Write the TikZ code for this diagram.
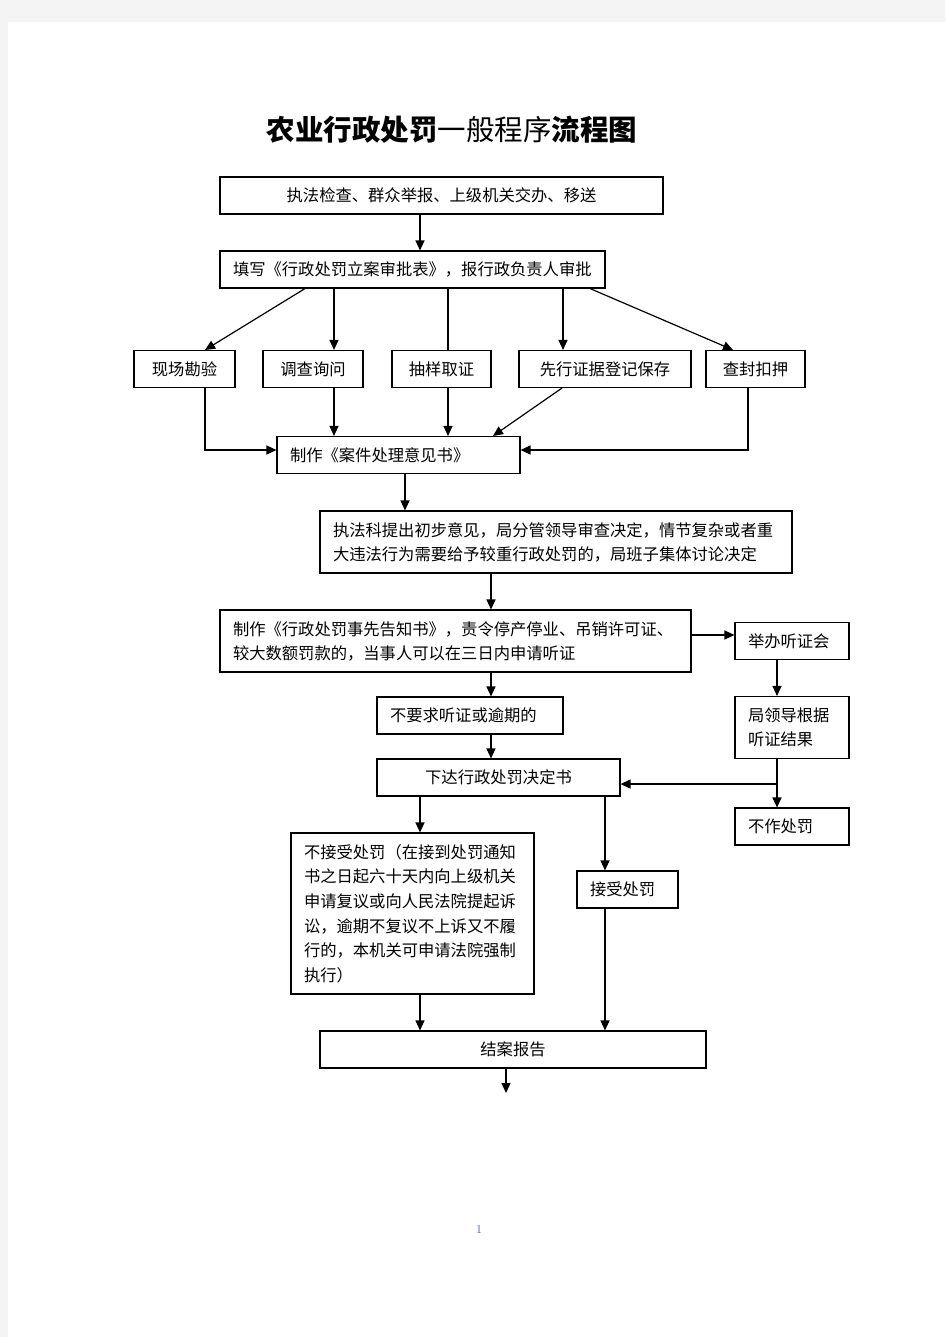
\documentclass[tikz,border=0pt]{standalone}
\usepackage{fontspec}
\usetikzlibrary{positioning,arrows.meta}
\newfontfamily\cjk{Noto Sans CJK SC}
\definecolor{pagegrey}{HTML}{F4F4F4}
\definecolor{pagenum}{RGB}{60,90,140}
\tikzset{
  box/.style={
    draw, line width=1.1pt, fill=white,
    minimum height=37pt, inner xsep=13pt, inner ysep=2pt,
    align=left,
    font=\cjk\fontsize{16.3pt}{24pt}\selectfont
  },
  arr/.style={line width=1.2pt, -{Triangle[length=10pt,width=9pt]}},
  link/.style={line width=1.2pt}
}

\begin{document}
\begin{tikzpicture}[x=1pt,y=-1pt]
      \fill[pagegrey] (0,0) rectangle (945,1337);
      \fill[white] (8,22) rectangle (945,1337);

      \node (Title) at (452,130) [font=\cjk\fontsize{28.5pt}{34pt}\selectfont]
      {{\bfseries 农业行政处罚}一般程序{\bfseries 流程图}};

      \node [box, on grid, below left=65.5pt and 10.5pt of Title, text width=417pt, align=center] (Source)
      {执法检查、群众举报、上级机关交办、移送};
      \node [box, on grid, below left=74pt and 29pt of Source, text width=359pt] (Register)
      {填写《行政处罚立案审批表》，报行政负责人审批};

      \node [box, on grid, below left=99.5pt and 99.5pt of Register, text width=74pt, align=center] (Inquiry) {调查询问};
      \node [box, on grid, left=128.5pt of Inquiry, text width=75pt, align=center] (Survey) {现场勘验};
      \node [box, on grid, right=128.5pt of Inquiry, text width=73pt, align=center] (Sample) {抽样取证};
      \node [box, on grid, right=163.5pt of Sample, text width=146pt, align=center] (Preserve) {先行证据登记保存};
      \node [box, on grid, right=150.5pt of Preserve, text width=73pt, align=center] (Seize) {查封扣押};

      \node [box, on grid, below right=86pt and 85.5pt of Inquiry, text width=217pt] (Opinion)
      {制作《案件处理意见书》};
      \node [box, on grid, below right=87pt and 157.5pt of Opinion, text width=446pt, minimum height=62pt] (Review)
      {执法科提出初步意见，局分管领导审查决定，情节复杂或者重\\大违法行为需要给予较重行政处罚的，局班子集体讨论决定};
      \node [box, on grid, below left=99pt and 100.5pt of Review, text width=445pt, minimum height=62pt] (Notice)
      {制作《行政处罚事先告知书》，责令停产停业、吊销许可证、\\较大数额罚款的，当事人可以在三日内申请听证};

      \node [box, on grid, right=336.5pt of Notice, text width=88pt] (Hearing) {举办听证会};
      \node [box, on grid, below=86.5pt of Hearing, text width=88pt, minimum height=62pt] (Result)
      {局领导根据\\听证结果};
      \node [box, on grid, below=99pt of Result, text width=88pt] (NoPenalty) {不作处罚};

      \node [box, on grid, below right=74.5pt and 14.5pt of Notice, text width=160pt] (NoRequest)
      {不要求听证或逾期的};
      \node [box, on grid, below right=62pt and 28.5pt of NoRequest, text width=217pt, align=center] (Decision)
      {下达行政处罚决定书};

      \node [box, on grid, below left=136pt and 86pt of Decision, text width=217pt, minimum height=161pt,
             font=\cjk\fontsize{16.3pt}{24.6pt}\selectfont] (Reject)
      {不接受处罚（在接到处罚通知\\书之日起六十天内向上级机关\\申请复议或向人民法院提起诉\\讼，逾期不复议不上诉又不履\\行的，本机关可申请法院强制\\执行）};
      \node [box, on grid, below right=112pt and 129pt of Decision, text width=75pt] (Accept) {接受处罚};

      \node [box, on grid, below right=136pt and 100.5pt of Reject, text width=360pt, align=center] (Close)
      {结案报告};
      \coordinate [on grid, below left=43.5pt and 7pt of Close] (End);

      \node [on grid, below left=179.5pt and 34pt of Close, text=pagenum, font=\fontsize{12pt}{14pt}\selectfont] (PageNum) {1};

      % first steps
      \draw[arr] ([xshift=-21.5pt]Source.south) -- ([xshift=7.5pt]Register.north);
      \draw[arr] ([xshift=-107.5pt]Register.south) -- ([xshift=20.5pt]Survey.north);
      \draw[arr] ([xshift=-78.5pt]Register.south) -- ([xshift=21pt]Inquiry.north);
      \draw[link] ([xshift=35.5pt]Register.south) -- ([xshift=6.5pt]Sample.north);
      \draw[arr] ([xshift=150.5pt]Register.south) -- ([xshift=-42pt]Preserve.north);
      \draw[arr] ([xshift=177.5pt]Register.south) -- ([xshift=-22.5pt]Seize.north);

      % into the opinion
      \draw[arr] ([xshift=20.5pt]Survey.south) |- ([yshift=5pt]Opinion.west);
      \draw[arr] ([xshift=21pt]Inquiry.south) -- ([xshift=-64.5pt]Opinion.north);
      \draw[arr] ([xshift=6.5pt]Sample.south) -- ([xshift=49.5pt]Opinion.north);
      \draw[arr] ([xshift=-43pt]Preserve.south) -- ([xshift=94.5pt]Opinion.north);
      \draw[arr] ([xshift=-7.5pt]Seize.south) |- ([yshift=5pt]Opinion.east);

      \draw[arr] ([xshift=6.5pt]Opinion.south) -- ([xshift=-151pt]Review.north);
      \draw[arr] ([xshift=-65pt]Review.south) -- ([xshift=35.5pt]Notice.north);

      % hearing branch
      \draw[arr] ([yshift=6pt]Notice.east) -- ([yshift=6pt]Hearing.west);
      \draw[arr] ([xshift=-15pt]Hearing.south) -- ([xshift=-15pt]Result.north);
      \draw[arr] ([xshift=-15pt]Result.south) -- ([xshift=-15pt]NoPenalty.north);
      \coordinate (Branch) at ([xshift=-15pt,yshift=-25pt]Result.south);
      \draw[arr] (Branch) -- (Decision.east |- Branch);

      \draw[arr] ([xshift=35.5pt]Notice.south) -- ([xshift=21pt]NoRequest.north);
      \draw[arr] ([xshift=21pt]NoRequest.south) -- ([xshift=-7.5pt]Decision.north);

      % decision outcomes
      \draw[arr] ([xshift=-78.5pt]Decision.south) -- ([xshift=7.5pt]Reject.north);
      \draw[arr] ([xshift=106.5pt]Decision.south) -- ([xshift=-22.5pt]Accept.north);
      \draw[arr] ([xshift=7.5pt]Reject.south) -- ([xshift=-93pt]Close.north);
      \draw[arr] ([xshift=-22.5pt]Accept.south) -- ([xshift=92pt]Close.north);
      \draw[arr] ([xshift=-7pt]Close.south) -- (End);
\end{tikzpicture}
\end{document}
